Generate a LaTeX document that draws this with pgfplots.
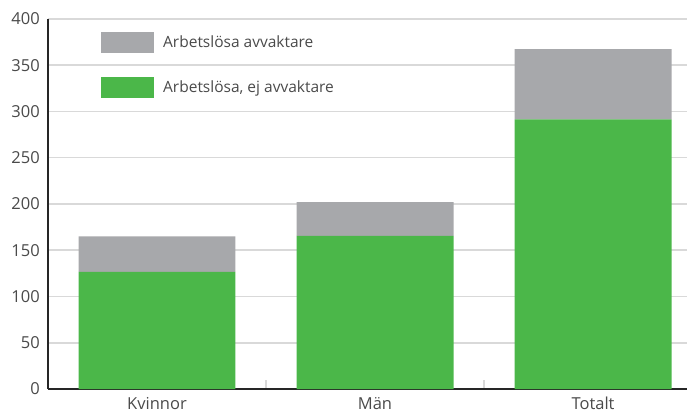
\documentclass[border=0pt]{standalone}
\usepackage{fontspec}
\setmainfont{Open Sans}
\usepackage{pgfplots}
\pgfplotsset{compat=1.18}
\definecolor{bgray}{HTML}{A7A8AB}
\definecolor{bgreen}{HTML}{4BB749}
\definecolor{txt}{HTML}{4A4A4A}
\definecolor{gridc}{HTML}{D9D9D9}
\begin{document}
\begin{tikzpicture}
\begin{axis}[
  scale only axis, width=639bp, height=370bp,
  ybar stacked, bar width=0.72,
  xmin=-0.5, xmax=2.431, ymin=0, ymax=400,
  ytick={0,50,...,400},
  xtick={0,1,2}, xticklabels={Kvinnor,Män,Totalt},
  minor xtick={0.5,1.5},
  major tick length=0pt, minor tick length=9bp, tick align=inside,
  minor x tick style={gridc, line width=1.2bp},
  axis x line*=bottom, axis y line*=left,
  axis line style={black!85, line width=2bp},
  ymajorgrids, grid style={gridc, line width=1.5bp},
  /pgf/number format/assume math mode=true,
  tick label style={font=\fontsize{16.5bp}{18bp}\selectfont, text=txt},
  yticklabel style={inner sep=0pt, xshift=-8bp},
  xticklabel style={inner sep=0pt, yshift=-8bp},
  legend style={at={(rel axis cs:0,1)}, anchor=north west, xshift=50bp, yshift=-11bp,
    draw=none, fill=none, font=\fontsize{15.5bp}{17bp}\selectfont, text=txt,
    nodes={inner sep=0pt}, row sep=23.5bp,
    /tikz/every odd column/.append style={column sep=9bp}},
  legend cell align=left, reverse legend,
  legend image code/.code={\fill[#1] (0bp,-10.5bp) rectangle (53bp,10.5bp);},
  clip=false,
]
\addplot[fill=bgreen, draw=none] coordinates {(0,126.5) (1,165.5) (2,291.5)};
\addplot[fill=bgray, draw=none] coordinates {(0,38.5) (1,36.5) (2,76)};
\legend{{Arbetslösa, ej avvaktare}, Arbetslösa avvaktare}
\coordinate (bl) at (rel axis cs:0,0);
\coordinate (tr) at (rel axis cs:1,1);
\end{axis}
\pgfresetboundingbox
\path ([shift={(-48bp,-25bp)}]bl) rectangle ([yshift=19bp]tr);
\end{tikzpicture}
\end{document}
